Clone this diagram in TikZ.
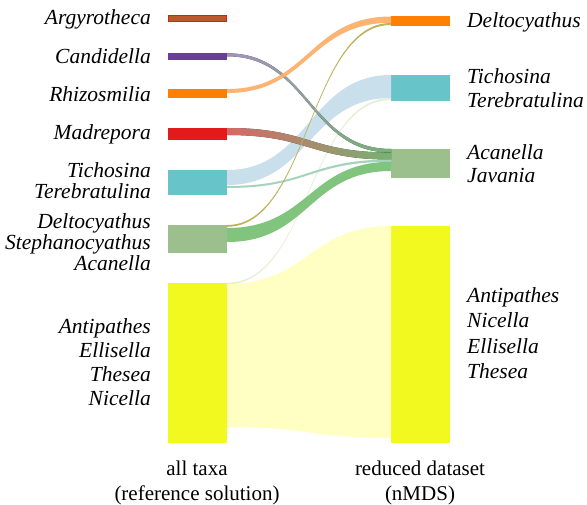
\documentclass[tikz,border=0pt]{standalone}
\usepackage{fontspec}
\setmainfont{Liberation Serif}[ItalicFont={Liberation Serif Italic}]
\definecolor{orN}{HTML}{FF7F00}
\definecolor{puN}{HTML}{6A3D9A}
\definecolor{reN}{HTML}{E31A1C}
\definecolor{cyN}{HTML}{67C4C8}
\definecolor{grN}{HTML}{9BC08D}
\definecolor{yeN}{HTML}{F2F91F}
\definecolor{brN}{HTML}{B85A2C}
\definecolor{orR}{HTML}{FDB06A}
\definecolor{blR}{HTML}{C9DFEC}
\definecolor{grR}{HTML}{80C47E}
\definecolor{yeR}{HTML}{FFFFC3}
\definecolor{puR}{HTML}{B49FD2}
\definecolor{reR}{HTML}{EE7070}
\definecolor{paL}{HTML}{E6F0D6}
\definecolor{tgR}{HTML}{A6D3BE}
\definecolor{goR}{HTML}{BDB25E}
\newcommand\rib[7]{%
  \fill[#1] ([yshift=-#3 bp]#2.north east) .. controls +(82bp,0) and +(-82bp,0) .. ([yshift=-#6 bp]#5.north west)
    -- ([yshift=-#7 bp]#5.north west) .. controls +(-82bp,0) and +(82bp,0) .. ([yshift=-#4 bp]#2.north east) -- cycle;}
\tikzset{
  bar/.style={rectangle, inner sep=0pt, outer sep=0pt, draw=none, minimum width=59bp, anchor=north west},
  lbl/.style={anchor=base east, inner sep=0pt, font=\fontsize{21.5bp}{22bp}\selectfont\itshape},
  rlbl/.style={anchor=base west, inner sep=0pt, font=\fontsize{21.5bp}{22bp}\selectfont\itshape},
  blbl/.style={anchor=base, inner sep=0pt, font=\fontsize{21bp}{22bp}\selectfont}
}
\begin{document}
\begin{tikzpicture}[x=1bp,y=-1bp]
\useasboundingbox (0,0) rectangle (587,505);
% left bars
\node[bar, fill=brN, draw=reN, line width=1bp, minimum width=58bp, minimum height=6.5bp] (L1) at (168.5,15.5) {};
\node[bar, fill=puN, minimum height=7bp] (L2) at (168,53) {};
\node[bar, fill=orN, minimum height=8.7bp] (L3) at (168,89) {};
\node[bar, fill=reN, minimum height=12bp] (L4) at (168,128) {};
\node[bar, fill=cyN, minimum height=25bp] (L5) at (168,170) {};
\node[bar, fill=grN, minimum height=27.7bp] (L6) at (168,225) {};
\node[bar, fill=yeN, minimum height=160bp] (L7) at (168,282.7) {};
% right bars
\node[bar, fill=orN, minimum height=9.7bp] (R1) at (391,16) {};
\node[bar, fill=cyN, minimum height=25.7bp] (R2) at (391,75) {};
\node[bar, fill=grN, minimum height=28.7bp] (R3) at (391,149) {};
\node[bar, fill=yeN, minimum height=216.7bp] (R4) at (391,226) {};
% ribbons
\rib{yeR}{L7}{1}{144.3}{R4}{0}{212}
\rib{blR}{L5}{0}{15}{R2}{0}{23}
\rib{paL}{L7}{0}{1.6}{R2}{23}{25}
\rib{tgR}{L5}{16}{18}{R3}{10.5}{12.8}
\rib{grR}{L6}{3}{17}{R3}{12.8}{22}
\rib{left color=reR, right color=grR, fill opacity=0.9}{L4}{0}{7}{R3}{3.5}{10.5}
\rib{left color=puR, right color=grR, fill opacity=0.9}{L2}{0.3}{3.3}{R3}{0}{3.5}
\rib{goR}{L6}{0}{1.8}{R1}{7}{9}
\rib{orR, fill opacity=0.95}{L3}{0}{4}{R1}{0.5}{6.8}
% left labels
\node[lbl] (tA) at (151,25) {Argyrotheca};
\node[lbl] (tB) at (151,64) {Candidella};
\node[lbl] (tC) at (151,102) {Rhizosmilia};
\node[lbl] (tD) at (151,140) {Madrepora};
\node[lbl] (tE1) at (151,178) {Tichosina};
\node[lbl] (tE2) at (151,199) {Terebratulina};
\node[lbl] (tF1) at (151,229) {Deltocyathus};
\node[lbl] (tF2) at (151,249.5) {Stephanocyathus};
\node[lbl] (tF3) at (151,270) {Acanella};
\node[lbl] (tG1) at (151,333.5) {Antipathes};
\node[lbl] (tG2) at (151,357.5) {Ellisella};
\node[lbl] (tG3) at (151,381.5) {Thesea};
\node[lbl] (tG4) at (151,405.5) {Nicella};
% right labels
\node[rlbl] (sA) at (467,27.7) {Deltocyathus};
\node[rlbl] (sB1) at (467,83.5) {Tichosina};
\node[rlbl] (sB2) at (467,108) {Terebratulina};
\node[rlbl] (sC1) at (467,159.7) {Acanella};
\node[rlbl] (sC2) at (467,182.5) {Javania};
\node[rlbl] (sD1) at (467,302) {Antipathes};
\node[rlbl] (sD2) at (467,327) {Nicella};
\node[rlbl] (sD3) at (467,353) {Ellisella};
\node[rlbl] (sD4) at (467,378.5) {Thesea};
% bottom labels
\node[blbl] (b1) at (197,475.5) {all taxa};
\node[blbl] (b2) at (197,500.5) {(reference solution)};
\node[blbl] (b3) at (420,475.5) {reduced dataset};
\node[blbl] (b4) at (420,500.5) {(nMDS)};
\end{tikzpicture}
\end{document}
